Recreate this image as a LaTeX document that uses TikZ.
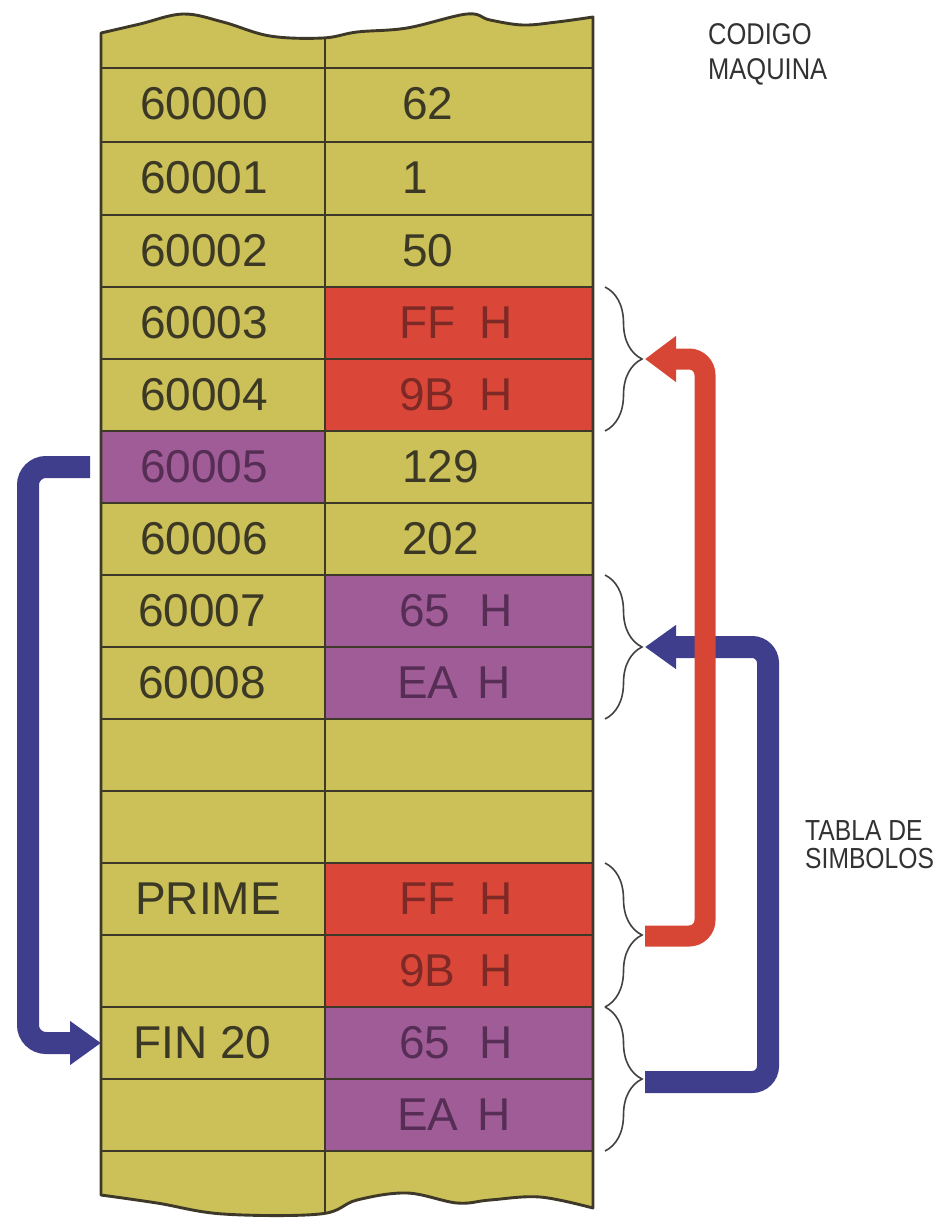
\documentclass[tikz,border=0pt]{standalone}
\usepackage{fontspec}
\setmainfont{Liberation Sans}
\newfontfamily\capfont[FakeStretch=0.85]{Liberation Sans}
\usetikzlibrary{arrows.meta,decorations.pathreplacing,fit}
\definecolor{tabyellow}{RGB}{203,193,88}
\definecolor{cellred}{RGB}{218,70,56}
\definecolor{cellpurple}{RGB}{160,92,150}
\definecolor{gridc}{RGB}{62,56,40}
\definecolor{txtyel}{RGB}{60,56,38}
\definecolor{txtred}{RGB}{125,42,38}
\definecolor{txtpur}{RGB}{85,45,85}
\definecolor{bracec}{RGB}{65,65,65}
\definecolor{arrowred}{RGB}{215,70,52}
\definecolor{arrowblue}{RGB}{62,62,140}
\definecolor{labelc}{RGB}{50,50,50}
\newcommand{\hx}[1]{\makebox[1.74em][l]{#1}H}
\begin{document}
\begin{tikzpicture}[x=1pt,y=-1pt,
  gridline/.style={draw=gridc, line width=2.9pt},
  cellfill/.style={inner sep=0pt, outer sep=0pt, draw=none},
  celltext/.style={font=\fontsize{46}{46}\selectfont, inner sep=0pt, anchor=base west},
  tyel/.style={celltext, text=txtyel},
  tred/.style={celltext, text=txtred},
  tpur/.style={celltext, text=txtpur},
  bracestyle/.style={draw=bracec, line width=1.6pt, decorate, decoration={brace, amplitude=37pt}},
  conn/.style={line width=21pt, rounded corners=16pt},
  redarrow/.style={conn, draw=arrowred, -{Triangle[length=31pt,width=44pt]}},
  bluearrow/.style={conn, line width=22pt, draw=arrowblue, -{Triangle[length=31pt,width=42pt]}},
  caption/.style={inner sep=0pt, anchor=north west, align=left, text=labelc}
]
\useasboundingbox (0,0) rectangle (942,1219);

% table body with torn edges
\path[fill=tabyellow] plot[smooth, tension=0.6] coordinates {(101,33) (140,24) (183,14) (223,22) (270,36) (323,38) (357,32) (407,28) (467,14) (490,20) (523,25) (557,22) (593,17)}
  -- plot[smooth, tension=0.6] coordinates {(593,1208) (540,1197) (490,1200) (457,1203) (407,1193) (357,1200) (320,1214) (223,1214) (157,1203) (101,1195)} -- cycle;

% cells
\foreach \n/\t/\b/\lc/\rc in {
  1/68/142/tabyellow/tabyellow, 2/142/215/tabyellow/tabyellow, 3/215/287/tabyellow/tabyellow,
  4/287/359/tabyellow/cellred, 5/359/431/tabyellow/cellred, 6/431/503/cellpurple/tabyellow,
  7/503/575/tabyellow/tabyellow, 8/575/647/tabyellow/cellpurple, 9/647/719/tabyellow/cellpurple,
  10/719/791/tabyellow/tabyellow, 11/791/863/tabyellow/tabyellow, 12/863/935/tabyellow/cellred,
  13/935/1007/tabyellow/cellred, 14/1007/1079/tabyellow/cellpurple, 15/1079/1151/tabyellow/cellpurple}{
  \node[cellfill, fill=\lc, fit={(101,\t) (325,\b)}] (L\n) {};
  \node[cellfill, fill=\rc, fit={(325,\t) (593,\b)}] (R\n) {};
}

% grid
\foreach \y in {68,142,215,287,359,431,503,575,647,719,791,863,935,1007,1079,1151}
  \draw[gridline] (101,\y) -- (593,\y);
\draw[gridline] (325,38) -- (325,1214);
\draw[gridline, line join=round] plot[smooth, tension=0.6] coordinates {(101,33) (140,24) (183,14) (223,22) (270,36) (323,38) (357,32) (407,28) (467,14) (490,20) (523,25) (557,22) (593,17)}
  -- plot[smooth, tension=0.6] coordinates {(593,1208) (540,1197) (490,1200) (457,1203) (407,1193) (357,1200) (320,1214) (223,1214) (157,1203) (101,1195)} -- cycle;

% texts
\node[tyel] (a1) at (140,119) {60000};
\node[tyel] (a2) at (140,193) {60001};
\node[tyel] (a3) at (140,266) {60002};
\node[tyel] (a4) at (140,338) {60003};
\node[tyel] (a5) at (140,410) {60004};
\node[tpur] (a6) at (140,482) {60005};
\node[tyel] (a7) at (140,554) {60006};
\node[tyel] (a8) at (138,626) {60007};
\node[tyel] (a9) at (138,698) {60008};
\node[tyel] (a12) at (135,914) {PRIME};
\node[tyel] (a14) at (133,1058) {FIN 20};

\node[tyel] (b1) at (402,119) {62};
\node[tyel] (b2) at (402,193) {1};
\node[tyel] (b3) at (402,266) {50};
\node[tred] (b4) at (399,338) {\hx{FF}};
\node[tred] (b5) at (399,410) {\hx{9B}};
\node[tyel] (b6) at (402,482) {129};
\node[tyel] (b7) at (402,554) {202};
\node[tpur] (b8) at (399,626) {\hx{65}};
\node[tpur] (b9) at (397,698) {\hx{EA}};
\node[tred] (b12) at (399,914) {\hx{FF}};
\node[tred] (b13) at (399,986) {\hx{9B}};
\node[tpur] (b14) at (399,1058) {\hx{65}};
\node[tpur] (b15) at (397,1130) {\hx{EA}};

% braces
\draw[bracestyle] (605,287) -- (605,431);
\draw[bracestyle] (605,575) -- (605,719);
\draw[bracestyle] (605,863) -- (605,1007);
\draw[bracestyle] (605,1007) -- (605,1151);
\coordinate (k1) at (645,359);
\coordinate (k2) at (645,647);
\coordinate (k3) at (645,936);
\coordinate (k4) at (645,1082);

% arrows
\draw[bluearrow] (k4) -- ([xshift=123pt]k4) -- ([xshift=123pt]k2) -- (k2);
\draw[redarrow] (k3) -- ([xshift=60pt]k3) -- ([xshift=60pt]k1) -- (k1);
\draw[bluearrow, rounded corners=18pt] ([xshift=-11pt]L6.west) -- ([xshift=-73pt]L6.west) -- ([xshift=-73pt]L14.west) -- (L14.west);

% captions
\node[caption, font=\capfont\fontsize{30}{35}\selectfont] (cm) at (708,23) {CODIGO\\MAQUINA};
\node[caption, font=\capfont\fontsize{29}{28}\selectfont] (ts) at (805,820) {TABLA DE\\SIMBOLOS};
\end{tikzpicture}
\end{document}
